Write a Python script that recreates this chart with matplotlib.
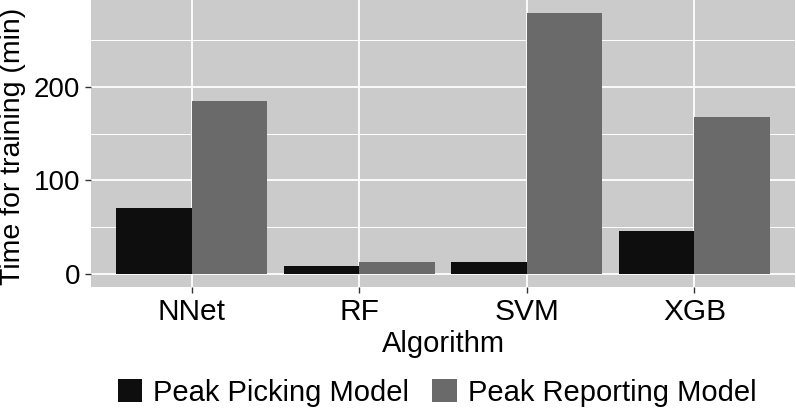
import matplotlib
matplotlib.use("Agg")
import matplotlib.pyplot as plt
import numpy as np

# Datos
algorithms = ["NNet", "RF", "SVM", "XGB"]
picking = [70, 9, 13, 46]
reporting = [185, 13, 279, 168]
series_names = ["Peak Picking Model", "Peak Reporting Model"]
y_ticks = [0, 100, 200]
y_minor = [50, 150, 250]

plt.rcParams['font.family'] = ['Liberation Sans', 'DejaVu Sans']

fig = plt.figure(figsize=(7.96, 4.12), dpi=100)
ax = fig.add_axes([91 / 796, 125 / 412, 704 / 796, 287 / 412])
ax.set_facecolor('#cbcbcb')

x = np.arange(1, len(algorithms) + 1)
w = 0.45
b1 = ax.bar(x - w / 2, picking, w, color='#0e0e0e', zorder=3, label=series_names[0])
b2 = ax.bar(x + w / 2, reporting, w, color='#6a6a6a', zorder=3, label=series_names[1])

# rejilla estilo ggplot
for v in y_ticks:
    ax.axhline(v, color='white', lw=1.3, zorder=1)
for v in y_minor:
    ax.axhline(v, color='white', lw=0.7, zorder=1)
for v in x:
    ax.axvline(v, color='white', lw=1.3, zorder=1)

top = max(max(picking), max(reporting))
ax.set_ylim(-0.05 * top, top * 1.05)
ax.set_xlim(0.4, 4.6)

ax.set_xticks(x)
ax.set_xticklabels(algorithms)
ax.set_yticks(y_ticks)
ax.tick_params(axis='both', length=4, width=1, color='#333333', pad=4)
ax.tick_params(axis='x', labelsize=21.5)
ax.tick_params(axis='y', labelsize=20)

for s in ax.spines.values():
    s.set_visible(False)

ax.set_xlabel('Algorithm', fontsize=21)
ax.xaxis.set_label_coords(0.5, -0.15)

# titulo del eje y
fig.text(13 / 796, 1 - 146 / 412, 'Time for training (min)', fontsize=20.5,
         rotation=90, ha='center', va='center')

fig.legend(handles=[b1, b2], loc='center', bbox_to_anchor=(437 / 796, 1 - 393 / 412),
           ncol=2, frameon=False, fontsize=21, handlelength=0.83, handleheight=0.83,
           handletextpad=0.38, columnspacing=0.8, borderaxespad=0)

plt.savefig('out.png', dpi=100)
